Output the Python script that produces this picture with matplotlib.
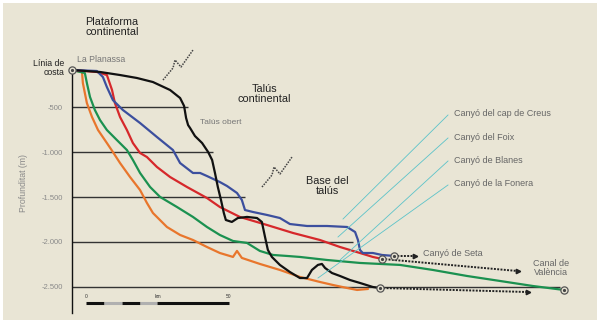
import matplotlib
matplotlib.use("Agg")
import matplotlib.pyplot as plt
from matplotlib.patches import Rectangle
from matplotlib.lines import Line2D

plt.rcParams['font.family'] = ['Liberation Sans', 'DejaVu Sans']

# --- profile data: distance from coast (km) and depth (m) ---
planassa_km = [0, 9.8, 16.8, 22.7, 28.3, 34.3, 37.8, 39.2, 39.9, 40.6, 41.3, 43.0, 45.5,
               47.6, 49.0, 50.0, 51.0, 52.1, 53.1, 53.8, 55.9, 58.0, 61.2, 64.7, 66.4,
               67.5, 68.5, 69.9, 72.7, 76.2, 79.7, 82.2, 83.9, 86.0, 87.4, 88.5, 90.9,
               93.7, 97.2, 100.7, 105.2, 107.7]
planassa_m = [-84, -106, -140, -173, -218, -307, -396, -485, -619, -698, -731, -820, -898,
              -998, -1087, -1232, -1388, -1533, -1678, -1756, -1778, -1734, -1722, -1734, -1778,
              -1945, -2090, -2168, -2257, -2336, -2403, -2403, -2313, -2257, -2246, -2291, -2347,
              -2380, -2425, -2458, -2503, -2514]

creus_km = [0, 8.7, 10.8, 12.2, 14.3, 17.8, 23.8, 29.7, 35.3, 37.8, 42.3, 44.8, 47.2, 51.7,
            54.2, 57.7, 59.4, 60.5, 63.3, 68.2, 72.7, 76.2, 82.2, 89.2, 96.2, 99.0, 100.0,
            100.7, 101.7, 105.2, 108.4, 112.6]
creus_m = [-84, -95, -162, -274, -419, -530, -675, -831, -976, -1121, -1232, -1232, -1266, -1333,
           -1377, -1455, -1533, -1645, -1667, -1700, -1734, -1801, -1823, -1823, -1834, -1890, -1979,
           -2090, -2124, -2124, -2146, -2157]

foix_km = [0, 8.7, 12.2, 14.0, 15.0, 16.8, 19.2, 21.3, 23.8, 26.2, 29.7, 34.3, 40.2, 47.2,
           51.7, 58.7, 68.2, 77.3, 86.7, 93.7, 100.7, 105.2, 108.4]
foix_m = [-84, -106, -140, -307, -452, -608, -753, -898, -1009, -1054, -1165, -1277, -1388, -1511,
          -1611, -1722, -1812, -1901, -1979, -2057, -2124, -2168, -2190]

blanes_km = [0, 4.5, 5.2, 6.3, 8.0, 9.8, 12.2, 15.7, 19.2, 21.3, 23.8, 27.3, 30.8, 36.7, 42.3,
             47.2, 51.7, 56.3, 61.2, 65.7, 70.3, 75.2, 79.7, 89.2, 100.7, 114.7, 126.2, 138.1,
             149.7, 161.2, 172.0]
blanes_m = [-84, -118, -229, -385, -530, -642, -753, -865, -976, -1087, -1232, -1388, -1499, -1611,
            -1722, -1834, -1923, -1990, -2012, -2101, -2146, -2157, -2168, -2202, -2235, -2257,
            -2313, -2380, -2436, -2492, -2536]

fonera_km = [0, 3.5, 3.8, 4.5, 5.2, 7.0, 9.1, 12.2, 14.3, 16.8, 20.3, 23.8, 26.2, 28.3, 33.2,
             37.8, 42.3, 47.2, 51.7, 56.3, 57.7, 59.4, 65.7, 72.7, 79.7, 86.7, 91.3, 96.2, 99.7,
             103.5]
fonera_m = [-84, -106, -229, -341, -452, -608, -753, -898, -998, -1121, -1277, -1422, -1566, -1678,
            -1834, -1923, -1979, -2057, -2124, -2168, -2101, -2179, -2246, -2313, -2391, -2447,
            -2481, -2514, -2536, -2525]

depth_ticks = [-500, -1000, -1500, -2000, -2500]
depth_labels = ['-500', '-1.000', '-1.500', '-2.000', '-2.500']

BG = '#e9e5d5'
W, H = 600, 326


def fx(x):
    return x / W


def fy(y):
    return 1 - y / H


fig = plt.figure(figsize=(6, 3.26), dpi=100, facecolor='white')
fig.patches.append(Rectangle((fx(3), fy(320)), fx(594), 317 / H, transform=fig.transFigure,
                             facecolor=BG, edgecolor='none', zorder=-10))

ax = fig.add_axes([fx(72), fy(320), fx(597 - 72), 317 / H])
ax.set_facecolor('none')
ax.set_xlim(0, 183.6)
ax.set_ylim(-2871, 663)

for side in ('top', 'right', 'bottom'):
    ax.spines[side].set_visible(False)
ax.spines['left'].set_bounds(-2793, -84)
ax.spines['left'].set_linewidth(1.0)
ax.spines['left'].set_color('#111111')
ax.set_xticks([])
ax.set_yticks(depth_ticks)
ax.set_yticklabels(depth_labels)
ax.tick_params(axis='y', length=0, pad=6.5, labelsize=5.5, labelcolor='#8a8a8a')

# depth reference lines of different lengths
grid_ends = [40.6, 49.3, 60.5, 98.3, 170.6]
ax.hlines(depth_ticks, 0, grid_ends, colors='#333333', lw=1.0, zorder=2)

# profiles
profiles = [
    (fonera_km, fonera_m, '#e8762c'),
    (blanes_km, blanes_m, '#1b9150'),
    (foix_km, foix_m, '#d6282b'),
    (creus_km, creus_m, '#3c4f9e'),
    (planassa_km, planassa_m, '#111111'),
]
for xs, ys, c in profiles:
    ax.plot(xs, ys, color=c, lw=1.6, solid_joinstyle='round', solid_capstyle='round', zorder=3)

# dotted continuation arrows
arrows = [
    ((creus_km[-1], creus_m[-1]), (119.9, -2157)),
    ((foix_km[-1], foix_m[-1]), (155.9, -2325)),
    ((planassa_km[-1], planassa_m[-1]), (159.4, -2559)),
]
for (x0, y0), (x1, y1) in arrows:
    ax.plot([x0, x1], [y0, y1], ls=(0, (1, 0.7)), lw=1.4, color='#222222', zorder=4)
    ax.plot([x1], [y1], marker='>', ms=3.2, color='#222222', zorder=4)

# end-point markers
ends_x = [0, planassa_km[-1], foix_km[-1], creus_km[-1], blanes_km[-1]]
ends_y = [planassa_m[0], planassa_m[-1], foix_m[-1], creus_m[-1], blanes_m[-1]]
ax.plot(ends_x, ends_y, 'o', ms=5.2, mfc=BG, mec='#555555', mew=0.9, zorder=5, clip_on=False)
ax.plot(ends_x, ends_y, 'o', ms=1.3, color='#444444', zorder=6, clip_on=False)

# scale bar (50 km)
sb_y = -2682
sb_x0 = 4.9
sb_steps = [0, 6.25, 12.5, 18.75, 25, 50]
sb_cols = ['#111111', '#b0b0b0', '#111111', '#b0b0b0', '#111111']
for a, b, c in zip(sb_steps[:-1], sb_steps[1:], sb_cols):
    ax.plot([sb_x0 + a, sb_x0 + b], [sb_y, sb_y], color=c, lw=2.2, solid_capstyle='butt', zorder=3)
for k, s in [(0, '0'), (25, 'km'), (50, '50')]:
    ax.text(sb_x0 + k, sb_y + 40, s, fontsize=3.5, color='#333333', ha='center', va='bottom')


# zigzag break symbols
def brk(x0, y0):
    pts = [(0, 0), (10, -12), (12, -20), (18, -13), (30, -30)]
    xs = [fx(x0 + p[0]) for p in pts]
    ys = [fy(y0 + p[1]) for p in pts]
    fig.add_artist(Line2D(xs, ys, transform=fig.transFigure, color='#444444', lw=1.1,
                          ls=(0, (1, 0.8))))


brk(163, 80)
brk(262, 187)

# leader lines to canyon names
leaders = [
    ('Canyó del cap de Creus', 114, (343, 219)),
    ('Canyó del Foix', 137, (338, 237)),
    ('Canyó de Blanes', 160, (340, 260)),
    ('Canyó de la Fonera', 184, (318, 278)),
]
for name, ty, (ex, ey) in leaders:
    fig.add_artist(Line2D([fx(448), fx(ex)], [fy(ty + 1), fy(ey)], transform=fig.transFigure,
                          color='#5cc3c9', lw=0.6))
    fig.text(fx(454), fy(ty), name, fontsize=6.5, color='#666666', ha='left', va='center')

# labels
dark = '#222222'
gray = '#777777'
fig.text(fx(112), fy(27), 'Plataforma\ncontinental', fontsize=7.8, color=dark, ha='center',
         va='center', linespacing=1.05)
fig.text(fx(264), fy(94), 'Talús\ncontinental', fontsize=7.8, color=dark, ha='center',
         va='center', linespacing=1.05)
fig.text(fx(327), fy(186), 'Base del\ntalús', fontsize=7.8, color=dark, ha='center',
         va='center', linespacing=1.05)
fig.text(fx(64), fy(68), 'Línia de\ncosta', fontsize=6.3, color=dark, ha='right',
         va='center', linespacing=1.1)
fig.text(fx(77), fy(59), 'La Planassa', fontsize=6.3, color=gray, ha='left', va='center')
fig.text(fx(200), fy(122), 'Talús obert', fontsize=6.0, color=gray, ha='left', va='center')
fig.text(fx(423), fy(254), 'Canyó de Seta', fontsize=6.5, color='#666666', ha='left', va='center')
fig.text(fx(551), fy(268), 'Canal de\nValència', fontsize=6.5, color='#666666', ha='center',
         va='center', linespacing=1.1)
fig.text(fx(23), fy(183), 'Profunditat (m)', fontsize=6.3, color='#8a8a8a', rotation=90,
         ha='center', va='center')

fig.savefig('out.png', dpi=100, facecolor='white')
